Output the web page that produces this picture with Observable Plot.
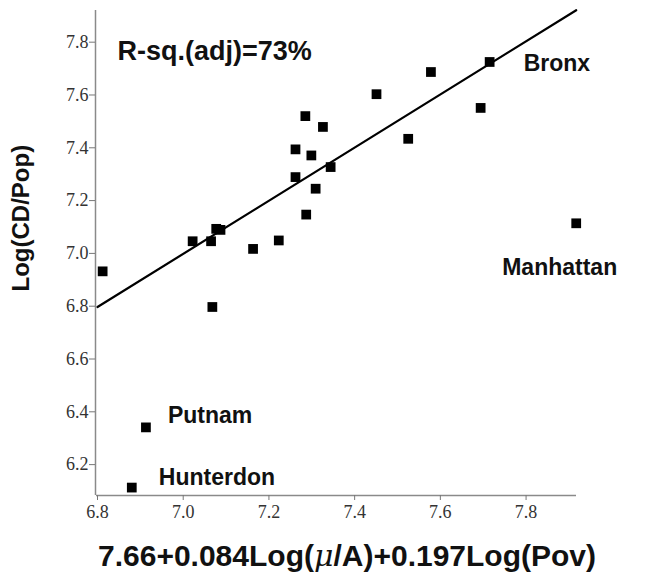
<!DOCTYPE html>
<html>
<head>
<meta charset="utf-8">
<script src="https://cdn.jsdelivr.net/npm/d3@7"></script>
<script src="https://cdn.jsdelivr.net/npm/@observablehq/plot@0.6"></script>
<style>
  html, body { margin: 0; padding: 0; background: #fff; }
</style>
</head>
<body>
<div id="chart"></div>
<script>
// Data
const predicted = [6.812, 7.022, 7.065, 7.077, 7.087, 7.163, 7.223, 7.262, 7.262, 7.285, 7.299, 7.287,
                   7.309, 7.326, 7.344, 7.451, 7.578, 7.715, 7.525, 7.694, 7.917, 7.068, 6.913, 6.880];
const logCDPop  = [6.932, 7.046, 7.046, 7.093, 7.089, 7.017, 7.049, 7.394, 7.289, 7.520, 7.371, 7.147,
                   7.245, 7.479, 7.327, 7.603, 7.687, 7.725, 7.434, 7.551, 7.114, 6.797, 6.341, 6.113];
const county    = ["", "", "", "", "", "", "", "", "", "", "", "",
                   "", "", "", "", "", "Bronx", "", "", "Manhattan", "", "Putnam", "Hunterdon"];
const fitX = [6.8, 7.917];
const fitY = [6.797, 7.921];
const xTicks = [6.8, 7.0, 7.2, 7.4, 7.6, 7.8];
const yTicks = [6.2, 6.4, 6.6, 6.8, 7.0, 7.2, 7.4, 7.6, 7.8];
const xDomain = [6.8, 7.92];
const yDomain = [6.083, 7.92];
const rsqText = "R-sq.(adj)=73%";
const xTitleParts = ["7.66+0.084Log(", "\u03BC", "/A)+0.197Log(Pov)"];
const yTitle = "Log(CD/Pop)";

const points = predicted.map((x, i) => ({x, y: logCDPop[i], name: county[i]}));
const fitLine = fitX.map((x, i) => ({x, y: fitY[i]}));
const xTitle = xTitleParts.join("");

const labelOffsets = {
  Bronx: {dx: 34, dy: 9},
  Manhattan: {dx: -74, dy: 52},
  Putnam: {dx: 22, dy: -4},
  Hunterdon: {dx: 27, dy: -3}
};
const sans = "Liberation Sans, Arial, sans-serif";
const serif = "Liberation Serif, Times New Roman, serif";

const labelMarks = Object.entries(labelOffsets).map(([name, o]) =>
  Plot.text(points.filter(d => d.name === name), {
    x: "x", y: "y", text: "name", dx: o.dx, dy: o.dy,
    textAnchor: "start", lineAnchor: "bottom",
    fontFamily: sans, fontWeight: "bold", fontSize: 23, fill: "#111"
  })
);

const chart = Plot.plot({
  width: 649,
  height: 584,
  marginLeft: 97,
  marginRight: 72,
  marginTop: 10,
  marginBottom: 89,
  style: {fontFamily: serif, fontSize: "18px", background: "#fff"},
  x: {domain: xDomain, axis: null},
  y: {domain: yDomain, axis: null},
  marks: [
    Plot.ruleX([xDomain[0]], {stroke: "#8a8a8a", strokeWidth: 1.5, dx: -2}),
    Plot.ruleY([yDomain[0]], {stroke: "#8a8a8a", strokeWidth: 1.5, x1: xDomain[0], x2: xDomain[1], dx: -1}),
    Plot.axisX({ticks: xTicks, tickFormat: d3.format(".1f"), tickSize: 5, tickPadding: 5,
                stroke: "#777", fill: "#333", label: null, fontSize: 18, fontFamily: serif}),
    Plot.axisY({ticks: yTicks, tickFormat: d3.format(".1f"), tickSize: 6, tickPadding: 1, dx: -2,
                stroke: "#777", fill: "#333", label: null, fontSize: 18, fontFamily: serif}),
    Plot.line(fitLine, {x: "x", y: "y", stroke: "#000", strokeWidth: 2.2}),
    Plot.dot(points, {x: "x", y: "y", symbol: "square", r: 5.5, fill: "#000", stroke: null}),
    ...labelMarks,
    Plot.text([rsqText], {frameAnchor: "top-left", text: d => d, dx: 20, dy: 49.5,
      textAnchor: "start", lineAnchor: "bottom",
      fontFamily: sans, fontWeight: "bold", fontSize: 27, fill: "#111"}),
    Plot.text([xTitle], {frameAnchor: "bottom", text: d => d, dx: 9.5, dy: 70,
      lineAnchor: "bottom", className: "xtitle",
      fontFamily: sans, fontWeight: "bold", fontSize: 30, fill: "#111"}),
    Plot.text([yTitle], {frameAnchor: "left", text: d => d, dx: -76.5, dy: 38.5, rotate: -90,
      lineAnchor: "middle",
      fontFamily: sans, fontWeight: "bold", fontSize: 24, fill: "#111"})
  ]
});
document.getElementById("chart").appendChild(chart);

// Italicise the mu in the x-axis title
d3.select(chart).selectAll("text").each(function() {
  if (this.textContent === xTitle) {
    const t = d3.select(this);
    t.text(null);
    xTitleParts.forEach((part, i) => {
      const span = t.append("tspan").text(part);
      if (i === 1) span.attr("font-style", "italic").attr("font-weight", "normal").attr("font-family", "DejaVu Serif, serif");
    });
  }
});
</script>
</body>
</html>
